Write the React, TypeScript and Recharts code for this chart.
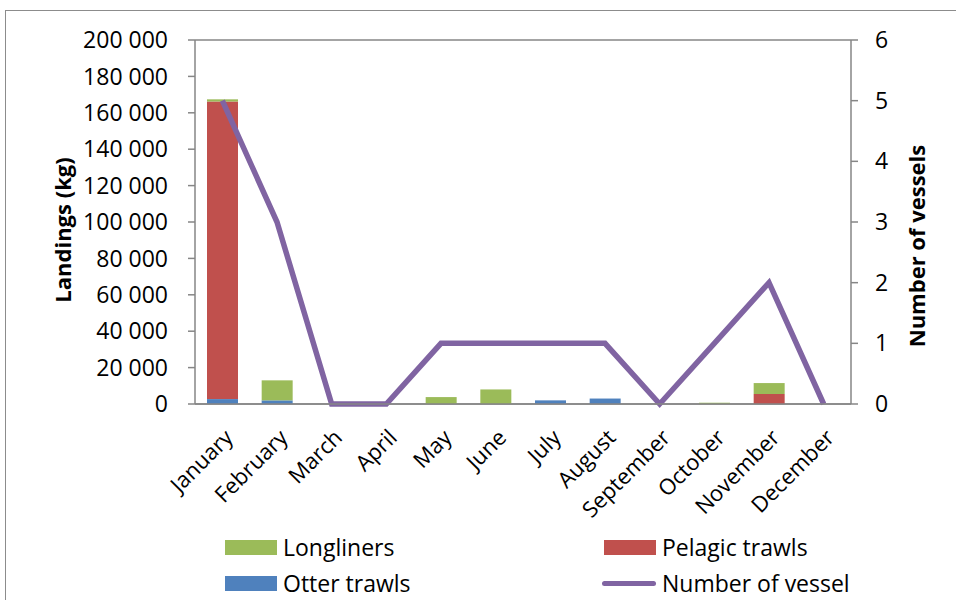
import React from "react";
import {
  ComposedChart,
  Bar,
  Line,
  XAxis,
  YAxis,
  CartesianGrid,
  Label,
} from "recharts";

const months = [
  "January", "February", "March", "April", "May", "June",
  "July", "August", "September", "October", "November", "December",
];
const otterTrawls = [2700, 2000, 0, 0, 0, 0, 2000, 3000, 0, 0, 0, 0];
const pelagicTrawls = [163500, 0, 0, 0, 0, 0, 0, 0, 0, 0, 5500, 0];
const longliners = [1200, 11000, 0, 0, 3800, 8000, 0, 0, 0, 700, 6000, 0];
const vessels = [5, 3, 0, 0, 1, 1, 1, 1, 0, 1, 2, 0];
const leftTicks = [0, 20000, 40000, 60000, 80000, 100000, 120000, 140000, 160000, 180000, 200000];
const rightTicks = [0, 1, 2, 3, 4, 5, 6];

const data = months.map((m, i) => ({
  month: m,
  otter: otterTrawls[i],
  pelagic: pelagicTrawls[i],
  longliners: longliners[i],
  vessels: vessels[i],
}));

const FONT = "'Open Sans', sans-serif";
const GRID = "#868686";

const fmt = (v: number) =>
  v === 0 ? "0" : String(v).replace(/\B(?=(\d{3})+(?!\d))/g, " ");

const MonthTick = ({ x, y, payload }: any) => (
  <text
    x={x + 12}
    y={y + 27}
    transform={`rotate(-45, ${x + 12}, ${y + 27})`}
    textAnchor="end"
    fontFamily={FONT}
    fontSize={22}
    fill="#000"
  >
    {payload.value}
  </text>
);

const legendItems = [
  { name: "Longliners", color: "#9BBB59", type: "rect" },
  { name: "Pelagic trawls", color: "#C0504D", type: "rect" },
  { name: "Otter trawls", color: "#4F81BD", type: "rect" },
  { name: "Number of vessel", color: "#8064A2", type: "line" },
];

// legend drawn as plain html under the chart, two columns like the Excel one
const ChartLegend = () => (
  <div
    style={{
      position: "absolute",
      left: 225,
      top: 533,
      display: "grid",
      gridTemplateColumns: "379px 300px",
      rowGap: 8,
      fontFamily: FONT,
      fontSize: 23,
      color: "#000",
    }}
  >
    {legendItems.map((it) => (
      <div key={it.name} style={{ display: "flex", alignItems: "center", height: 28 }}>
        {it.type === "rect" ? (
          <div style={{ width: 52, height: 15, background: it.color, marginRight: 6 }} />
        ) : (
          <div
            style={{
              width: 54,
              height: 5,
              borderRadius: 3,
              background: it.color,
              marginLeft: -2,
              marginRight: 6,
            }}
          />
        )}
        <span>{it.name}</span>
      </div>
    ))}
  </div>
);

export default function App() {
  return (
    <div
      style={{
        position: "absolute",
        left: 0,
        top: 0,
        width: 956,
        height: 600,
        overflow: "hidden",
        background: "#fff",
      }}
    >
      <div
        style={{
          position: "absolute",
          left: 5,
          top: 10,
          width: 1000,
          height: 700,
          border: "1px solid #8c8c8c",
        }}
      />
      <ComposedChart
        width={956}
        height={600}
        data={data}
        margin={{ top: 40, right: 0, bottom: 0, left: 0 }}
      >
        <CartesianGrid vertical={false} stroke={GRID} strokeWidth={1.5} />
        <XAxis
          dataKey="month"
          height={196}
          axisLine={{ stroke: GRID, strokeWidth: 1.5 }}
          tickLine={false}
          interval={0}
          tick={<MonthTick />}
        />
        <YAxis
          yAxisId="left"
          width={195}
          domain={[0, 200000]}
          ticks={leftTicks}
          tickFormatter={fmt}
          axisLine={{ stroke: GRID, strokeWidth: 1.5 }}
          tickLine={{ stroke: GRID, strokeWidth: 1.5 }}
          tickSize={7}
          tickMargin={20}
          interval={0}
          tick={{ fontFamily: FONT, fontSize: 23, fill: "#000" }}
        >
          <Label
            content={({ viewBox }: any) => {
              const cx = viewBox.x + 62;
              const cy = viewBox.y + viewBox.height / 2 + 8;
              return (
                <text
                  x={cx}
                  y={cy}
                  transform={`rotate(-90, ${cx}, ${cy})`}
                  textAnchor="middle"
                  dominantBaseline="central"
                  fontFamily={FONT}
                  fontWeight="bold"
                  fontSize={22}
                  fill="#000"
                >
                  Landings (kg)
                </text>
              );
            }}
          />
        </YAxis>
        <YAxis
          yAxisId="right"
          orientation="right"
          width={105}
          domain={[0, 6]}
          ticks={rightTicks}
          axisLine={{ stroke: GRID, strokeWidth: 1.5 }}
          tickLine={{ stroke: GRID, strokeWidth: 1.5 }}
          tickSize={7}
          tickMargin={17}
          interval={0}
          tick={{ fontFamily: FONT, fontSize: 23, fill: "#000" }}
        >
          <Label
            content={({ viewBox }: any) => {
              const cx = viewBox.x + 65;
              const cy = viewBox.y + viewBox.height / 2 + 24;
              return (
                <text
                  x={cx}
                  y={cy}
                  transform={`rotate(-90, ${cx}, ${cy})`}
                  textAnchor="middle"
                  dominantBaseline="central"
                  fontFamily={FONT}
                  fontWeight="bold"
                  fontSize={22}
                  fill="#000"
                >
                  Number of vessels
                </text>
              );
            }}
          />
        </YAxis>
        <Bar yAxisId="left" dataKey="otter" stackId="a" barSize={31} fill="#4F81BD" isAnimationActive={false} />
        <Bar yAxisId="left" dataKey="pelagic" stackId="a" barSize={31} fill="#C0504D" isAnimationActive={false} />
        <Bar yAxisId="left" dataKey="longliners" stackId="a" barSize={31} fill="#9BBB59" isAnimationActive={false} />
        <Line
          yAxisId="right"
          dataKey="vessels"
          type="linear"
          stroke="#8064A2"
          strokeWidth={5.5}
          dot={false}
          activeDot={false}
          isAnimationActive={false}
        />
      </ComposedChart>
      <ChartLegend />
    </div>
  );
}
